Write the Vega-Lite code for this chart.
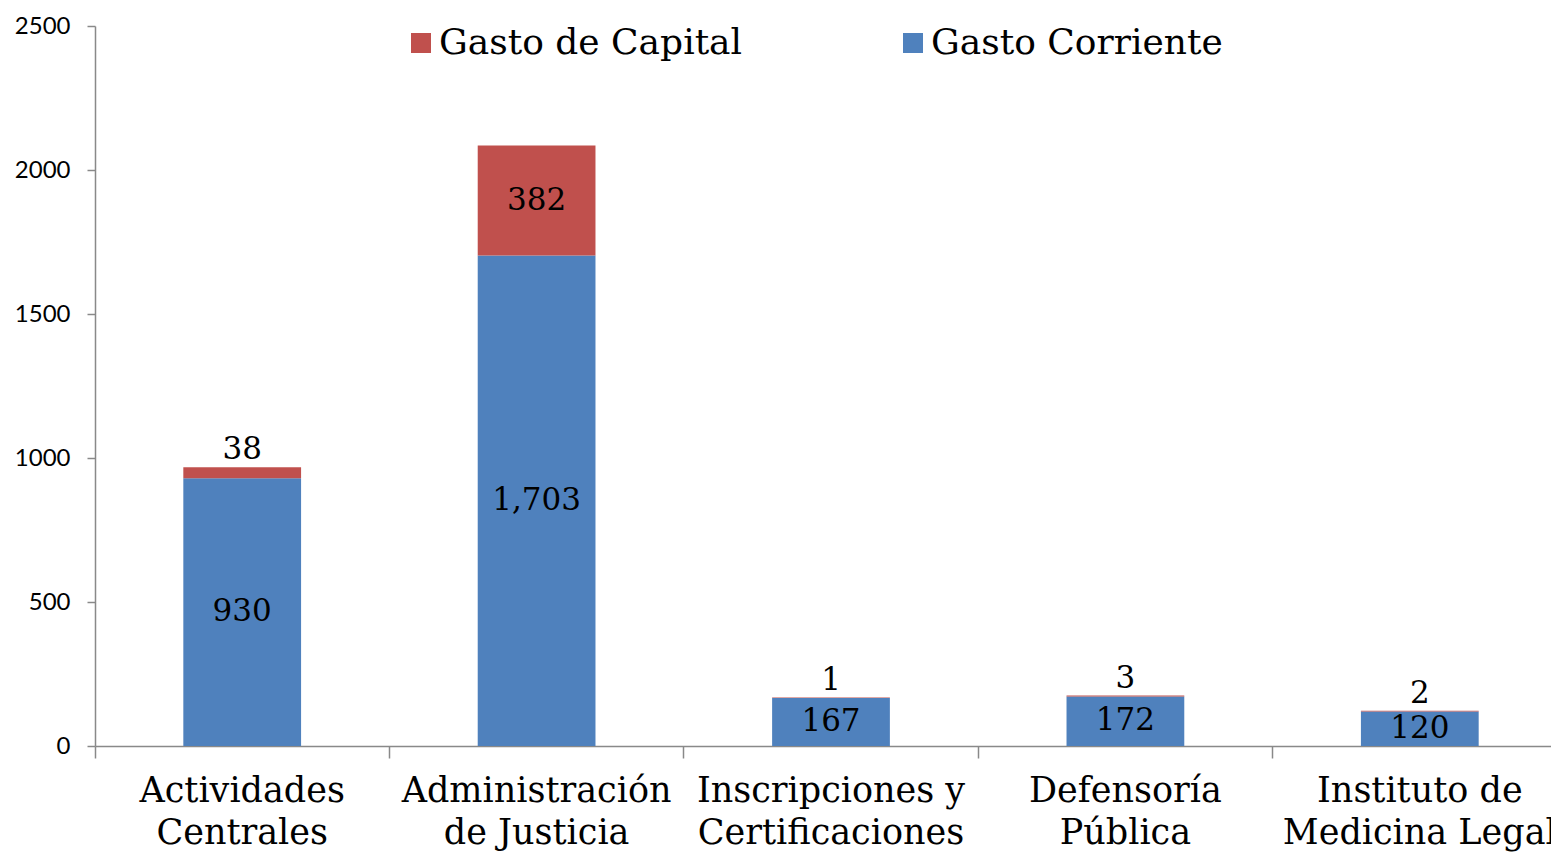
{
  "$schema": "https://vega.github.io/schema/vega-lite/v6.json",
  "width": 1472,
  "height": 720,
  "autosize": "none",
  "padding": {"left": 95, "top": 26, "right": 0, "bottom": 106},
  "background": "white",
  "config": {"view": {"stroke": null}},
  "data": {
    "values": [
      {"cat": "Actividades Centrales", "serie": "Gasto Corriente", "value": 930},
      {"cat": "Actividades Centrales", "serie": "Gasto de Capital", "value": 38},
      {"cat": "Administración de Justicia", "serie": "Gasto Corriente", "value": 1703},
      {"cat": "Administración de Justicia", "serie": "Gasto de Capital", "value": 382},
      {"cat": "Inscripciones y Certificaciones", "serie": "Gasto Corriente", "value": 167},
      {"cat": "Inscripciones y Certificaciones", "serie": "Gasto de Capital", "value": 1},
      {"cat": "Defensoría Pública", "serie": "Gasto Corriente", "value": 172},
      {"cat": "Defensoría Pública", "serie": "Gasto de Capital", "value": 3},
      {"cat": "Instituto de Medicina Legal", "serie": "Gasto Corriente", "value": 120},
      {"cat": "Instituto de Medicina Legal", "serie": "Gasto de Capital", "value": 2}
    ]
  },
  "encoding": {
    "x": {
      "field": "cat",
      "type": "nominal",
      "sort": null,
      "title": null,
      "scale": {"paddingInner": 0.6, "paddingOuter": 0.3},
      "axis": {
        "labelAngle": 0,
        "bandPosition": -0.75,
        "domainColor": "#898989",
        "domainWidth": 1.5,
        "tickColor": "#898989",
        "tickWidth": 1.5,
        "tickSize": 12,
        "labelFont": "DejaVu Serif",
        "labelFontSize": 35,
        "labelColor": "#000000",
        "labelPadding": 15,
        "labelLineHeight": 42,
        "labelLimit": 0,
        "labelOverlap": false,
        "labelExpr": "datum.label == 'Actividades Centrales' ? ['Actividades', 'Centrales'] : datum.label == 'Administración de Justicia' ? ['Administración', 'de Justicia'] : datum.label == 'Inscripciones y Certificaciones' ? ['Inscripciones y', 'Certificaciones'] : datum.label == 'Defensoría Pública' ? ['Defensoría', 'Pública'] : ['Instituto de', 'Medicina Legal']"
      }
    }
  },
  "layer": [
    {
      "mark": {"type": "bar"},
      "encoding": {
        "y": {
          "field": "value",
          "type": "quantitative",
          "stack": "zero",
          "title": null,
          "scale": {"domain": [0, 2500], "nice": false},
          "axis": {
            "values": [0, 500, 1000, 1500, 2000, 2500],
            "format": "d",
            "grid": false,
            "domainColor": "#898989",
            "domainWidth": 1.5,
            "tickColor": "#898989",
            "tickWidth": 1.5,
            "tickSize": 8,
            "labelFont": "Lato",
            "labelFontSize": 24,
            "labelColor": "#000000",
            "labelPadding": 17
          }
        },
        "order": {"field": "serie", "sort": "ascending"},
        "color": {
          "field": "serie",
          "type": "nominal",
          "scale": {"domain": ["Gasto de Capital", "Gasto Corriente"], "range": ["#C0504D", "#4F81BD"]},
          "legend": {
            "orient": "none",
            "legendX": 308,
            "legendY": -1,
            "direction": "horizontal",
            "columns": 2,
            "title": null,
            "symbolType": "square",
            "symbolSize": 400,
            "symbolStrokeWidth": 0,
            "labelFont": "DejaVu Serif",
            "labelFontSize": 36,
            "labelColor": "#000000",
            "labelLimit": 0,
            "labelOffset": 0,
            "columnPadding": 152
          }
        }
      }
    },
    {
      "transform": [
        {"filter": "datum.serie == 'Gasto Corriente' || datum.value > 100"}
      ],
      "mark": {"type": "text", "font": "DejaVu Serif", "fontSize": 31, "color": "#000000", "baseline": "middle"},
      "encoding": {
        "y": {"field": "value", "type": "quantitative", "stack": "zero", "bandPosition": 0.5},
        "order": {"field": "serie", "sort": "ascending"},
        "detail": {"field": "serie"},
        "text": {"field": "value", "type": "quantitative", "format": ",d"}
      }
    },
    {
      "transform": [
        {"stack": "value", "groupby": ["cat"], "sort": [{"field": "serie", "order": "ascending"}], "as": ["v0", "v1"]},
        {"filter": "datum.serie == 'Gasto de Capital' && datum.value < 100"}
      ],
      "mark": {"type": "text", "font": "DejaVu Serif", "fontSize": 31, "color": "#000000", "baseline": "bottom", "dy": -1},
      "encoding": {
        "y": {"field": "v1", "type": "quantitative"},
        "text": {"field": "value", "type": "quantitative", "format": ",d"}
      }
    }
  ]
}
